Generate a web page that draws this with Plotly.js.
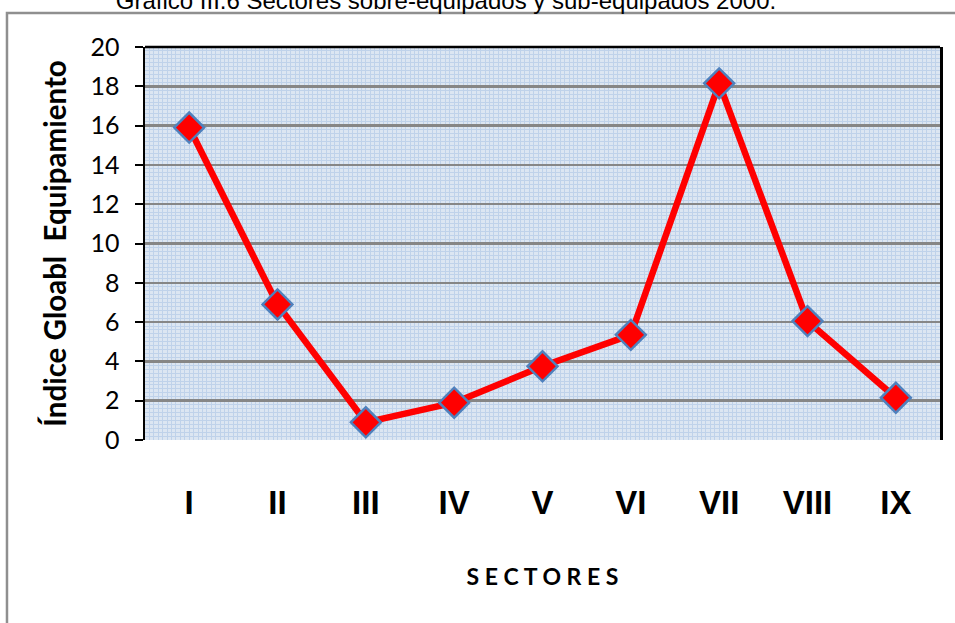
<!DOCTYPE html>
<html>
<head>
<meta charset="utf-8">
<script src="https://cdn.plot.ly/plotly-3.0.1.min.js"></script>
<style>html,body{margin:0;padding:0;background:#fff;}#chart{width:955px;height:623px;}</style>
</head>
<body>
<div id="chart"></div>
<script>
const sectores = ['I', 'II', 'III', 'IV', 'V', 'VI', 'VII', 'VIII', 'IX'];
const indice = [15.9, 6.9, 0.9, 1.9, 3.75, 5.35, 18.15, 6.05, 2.15];
const yTicks = [0, 2, 4, 6, 8, 10, 12, 14, 16, 18, 20];
const chartTitle = 'Gráfico III.6 Sectores sobre-equipados y sub-equipados 2000.';
const xTitle = 'S E C T O R E S';
const yTitle = 'Índice Gloabl  Equipamiento';

const xIdx = sectores.map((_, i) => i);

const trace = {
  x: xIdx,
  y: indice,
  type: 'scatter',
  mode: 'lines+markers',
  line: {color: '#ff0000', width: 6.5},
  marker: {symbol: 'diamond', size: 23, color: '#ff0000', line: {color: '#4f81bd', width: 2.5}},
  hoverinfo: 'x+y',
  cliponaxis: false
};

const layout = {
  width: 955, height: 623,
  paper_bgcolor: '#ffffff',
  plot_bgcolor: '#dce6f2',
  margin: {l: 145, r: 15, t: 47, b: 183, pad: 0},
  showlegend: false,
  title: {
    text: chartTitle,
    font: {family: 'Liberation Sans Narrow, Liberation Sans, Arial', size: 24, color: '#000'},
    x: 0.467, xanchor: 'center', xref: 'container',
    y: 0.985, yanchor: 'bottom', yref: 'container'
  },
  xaxis: {
    type: 'linear',
    range: [-0.5, 8.5],
    tickvals: xIdx,
    ticktext: sectores,
    ticks: '',
    ticklabelstandoff: 40,
    showgrid: false,
    zeroline: false,
    showline: false,
    fixedrange: true,
    tickfont: {family: 'Liberation Sans Narrow, Liberation Sans, Arial', size: 33, color: '#000', weight: 'bold'},
    minor: {dtick: 0.05, showgrid: true, gridcolor: '#bfd2ea', gridwidth: 1},
    title: {text: xTitle, font: {family: 'Lato, Open Sans, sans-serif', size: 23, color: '#000', weight: 'bold'}, standoff: 48},
    automargin: false
  },
  yaxis: {
    range: [0, 20],
    tickvals: yTicks,
    ticks: 'outside',
    ticklen: 8,
    tickwidth: 2,
    tickcolor: '#000',
    ticklabelstandoff: 10,
    showgrid: true,
    gridcolor: '#868686',
    gridwidth: 2.5,
    zeroline: false,
    showline: true,
    linecolor: '#000',
    linewidth: 2.5,
    mirror: true,
    fixedrange: true,
    tickfont: {family: 'Lato, Open Sans, sans-serif', size: 25, color: '#000'},
    minor: {dtick: 0.2, showgrid: true, gridcolor: '#bfd2ea', gridwidth: 1, ticks: ''},
    title: {text: yTitle, font: {family: 'Lato, Open Sans, sans-serif', size: 29.5, color: '#000', weight: 'bold'}, standoff: 15},
    automargin: false
  },
  shapes: [
    {type: 'line', xref: 'paper', yref: 'paper', x0: 0, x1: 1, y0: 1, y1: 1, line: {color: '#000', width: 2.5}, layer: 'above'},
    {type: 'path', xref: 'paper', yref: 'paper',
     path: 'M -0.1736,-0.5 L -0.1736,1.0865 L 1.03,1.0865',
     line: {color: '#8f8f8f', width: 2.5}, layer: 'above'}
  ]
};

Plotly.newPlot('chart', [trace], layout, {displayModeBar: false, staticPlot: true});
</script>
</body>
</html>
